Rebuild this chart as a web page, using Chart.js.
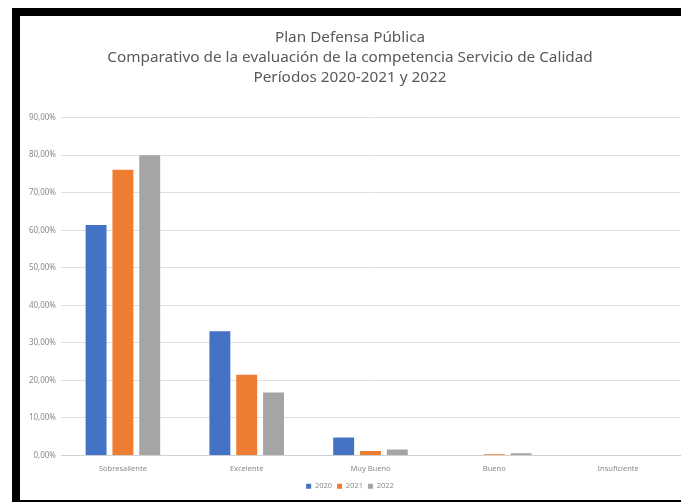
<!DOCTYPE html>
<html>
<head>
<meta charset="utf-8">
<script src="https://cdn.jsdelivr.net/npm/chart.js@4.4.0/dist/chart.umd.min.js"></script>
<style>
  html, body { margin: 0; padding: 0; background: #fff; overflow: hidden; }
  #frame {
    position: absolute; left: 12px; top: 8px;
    width: 661px; height: 484px;
    border-top: 8px solid #000; border-left: 8px solid #000; border-bottom: 2px solid #000;
    background: #fff;
  }
  #frame canvas { display: block; }
</style>
</head>
<body>
<div id="frame"><canvas id="chart" width="661" height="484"></canvas></div>
<script>
// categories and values (percent)
var categories = ['Sobresaliente', 'Excelente', 'Muy Bueno', 'Bueno', 'Insuficiente'];
var years = ['2020', '2021', '2022'];
var v2020 = [61.4, 33.1, 4.8, 0, 0];
var v2021 = [76.1, 21.5, 1.2, 0.3, 0];
var v2022 = [80.0, 16.8, 1.6, 0.6, 0];
var yTicks = [0, 10, 20, 30, 40, 50, 60, 70, 80, 90];

var colors = ['#4472C4', '#ED7D31', '#A5A5A5'];

function pct(v) {
  return v.toFixed(2).replace('.', ',') + '%';
}

var config = {
  type: 'bar',
  data: {
    labels: categories,
    datasets: [v2020, v2021, v2022].map(function (d, i) {
      return {
        label: years[i],
        data: d,
        backgroundColor: colors[i],
        categoryPercentage: 0.65,
        barPercentage: 0.78
      };
    })
  },
  options: {
    responsive: false,
    animation: false,
    layout: { padding: { left: 0, right: 1, top: 0, bottom: 0 } },
    plugins: {
      title: {
        display: true,
        text: ['Plan Defensa Pública',
               'Comparativo de la evaluación de la competencia Servicio de Calidad',
               'Períodos 2020-2021 y 2022'],
        color: '#595959',
        font: { family: 'Noto Sans', size: 15.3, weight: 'normal', lineHeight: 1.3 },
        padding: { top: 12, bottom: 30 }
      },
      legend: {
        position: 'bottom',
        labels: {
          boxWidth: 5, boxHeight: 5,
          color: '#8a8a8a',
          font: { family: 'Noto Sans', size: 7.5 },
          padding: 5
        }
      },
      tooltip: { enabled: false }
    },
    scales: {
      x: {
        afterFit: function (s) { s.height += 3; },
        grid: { display: false },
        border: { display: true, color: '#d0d0d0' },
        ticks: { color: '#8a8a8a', font: { family: 'Noto Sans', size: 7.5 }, padding: 1 }
      },
      y: {
        min: 0, max: 90,
        afterBuildTicks: function (s) { s.ticks = yTicks.map(function (v) { return { value: v }; }); },
        afterFit: function (s) { s.width = 41; },
        grid: { color: '#e0e0e0', drawTicks: false },
        border: { display: false },
        ticks: {
          color: '#8a8a8a', font: { family: 'Noto Sans', size: 8 }, padding: 5,
          callback: function (v) { return pct(v); }
        }
      }
    }
  }
};

var ctx = document.getElementById('chart').getContext('2d');
window.myBar = new Chart(ctx, config);
</script>
</body>
</html>
